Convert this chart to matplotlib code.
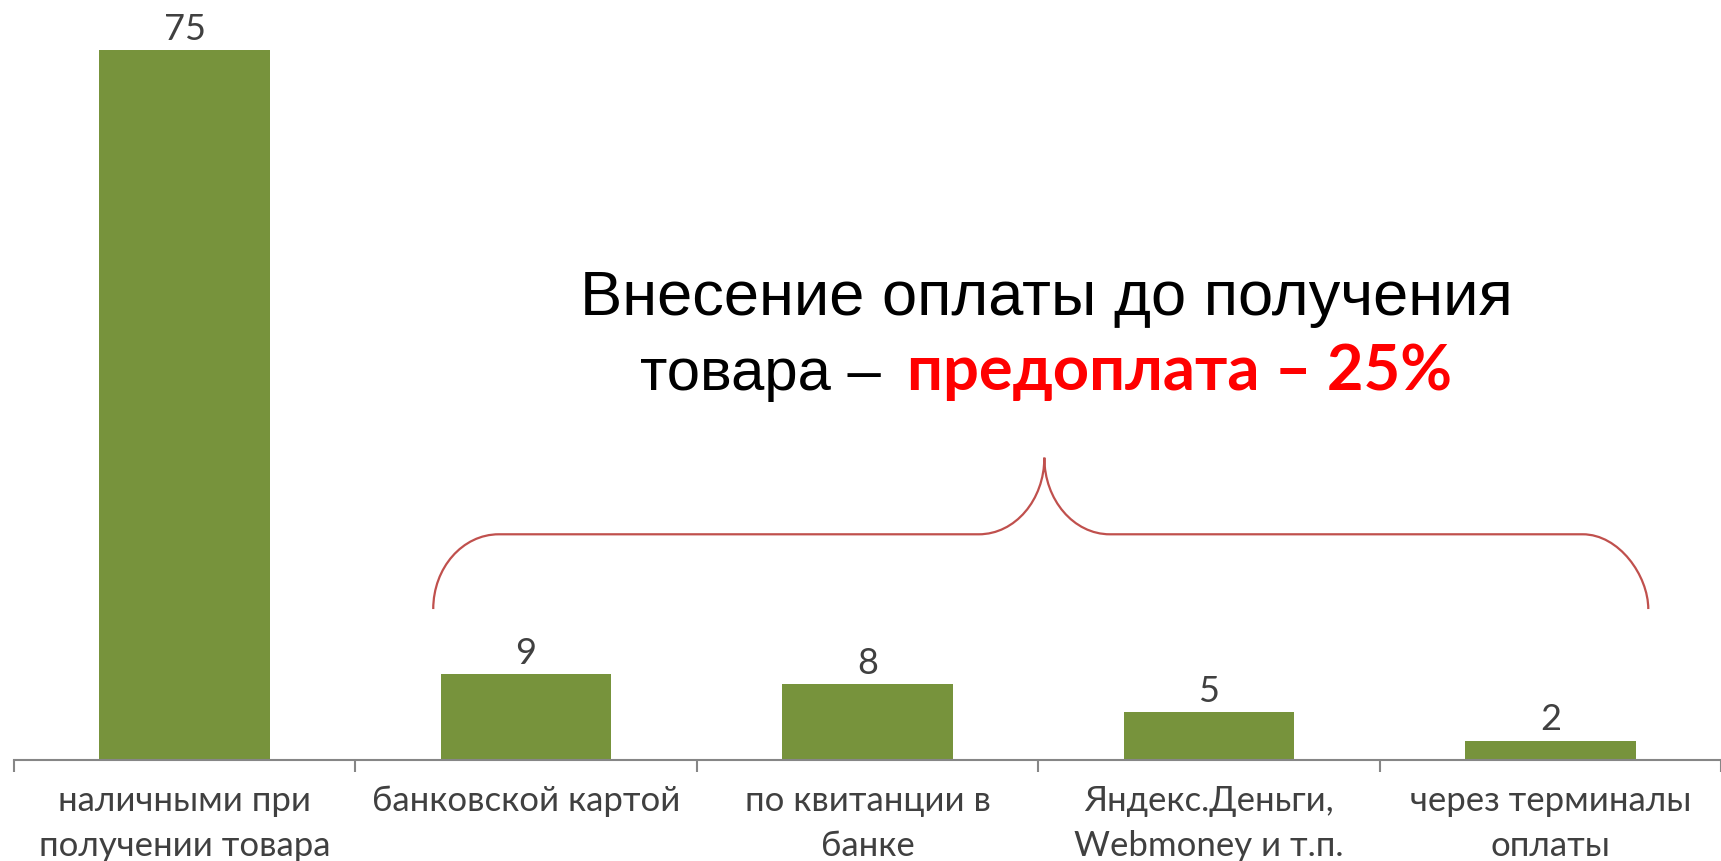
import numpy as np
import matplotlib
matplotlib.use("Agg")
import matplotlib.pyplot as plt
from matplotlib.path import Path
from matplotlib.patches import PathPatch

# data
categories = ["наличными при\nполучении товара", "банковской картой",
              "по квитанции в\nбанке", "Яндекс.Деньги,\nWebmoney и т.п.",
              "через терминалы\nоплаты"]
values = [75, 9, 8, 5, 2]

bar_color = "#77933C"
text_gray = "#404040"
brace_color = "#C0504D"

W, H = 1721, 862
y_axis_px = 760.5
cat_px = 343.4
fig = plt.figure(figsize=(W / 100, H / 100), dpi=100)
ax = fig.add_axes([14 / W, (H - y_axis_px) / H, (W - 14) / W, 757 / H])

x = np.arange(len(values))
ax.bar(x, values, width=0.5, color=bar_color, zorder=2)
ax.set_xlim(-0.5, -0.5 + (W - 14) / cat_px)
ax.set_ylim(0, 80)

for xi, v in zip(x, values):
    ax.annotate(str(v), (xi, v), xytext=(0, 8), textcoords="offset points",
                ha="center", va="baseline", fontsize=26, family="Lato",
                color=text_gray, annotation_clip=False)

# axis styling
for s in ["top", "right", "left"]:
    ax.spines[s].set_visible(False)
ax.spines["bottom"].set_color("#868686")
ax.spines["bottom"].set_linewidth(1.5)
ax.set_yticks([])
ax.set_xticks(x)
ax.set_xticklabels(categories, fontsize=25, family="Lato", color=text_gray,
                   linespacing=1.5)
ax.set_xticks(np.arange(-0.5, 5.5, 1), minor=True)
ax.tick_params(axis="x", which="major", length=0, pad=18)
ax.tick_params(axis="x", which="minor", length=8.5, width=1.5, color="#868686")

# curly brace over the prepaid categories
xl, xp, xr = 0.728, 2.518, 4.287
yb, ya, yt = 15.9, 23.8, 31.9
rx, ry1, ry2 = 0.192, ya - yb, yt - ya
k = 0.5523
verts = [
    (xl, yb), (xl, yb + k * ry1), (xl + rx - k * rx, ya), (xl + rx, ya),
    (xp - rx, ya),
    (xp - rx + k * rx, ya), (xp, yt - k * ry2), (xp, yt),
    (xp, yt - k * ry2), (xp + rx - k * rx, ya), (xp + rx, ya),
    (xr - rx, ya),
    (xr - rx + k * rx, ya), (xr, ya - k * ry1), (xr, yb),
]
codes = [Path.MOVETO, Path.CURVE4, Path.CURVE4, Path.CURVE4,
         Path.LINETO,
         Path.CURVE4, Path.CURVE4, Path.CURVE4,
         Path.CURVE4, Path.CURVE4, Path.CURVE4,
         Path.LINETO,
         Path.CURVE4, Path.CURVE4, Path.CURVE4]
ax.add_patch(PathPatch(Path(verts, codes), fill=False, edgecolor=brace_color,
                       linewidth=1.6, zorder=3))

# annotation text
fig.text(1046 / W, (H - 315) / H, "Внесение оплаты до получения",
         ha="center", va="baseline", fontsize=45.5, family="Liberation Sans",
         color="black")
fig.text(640 / W, (H - 390) / H, "товара –", ha="left", va="baseline",
         fontsize=43, family="Liberation Sans", color="black")
fig.text(907 / W, (H - 390) / H, "предоплата – 25%", ha="left",
         va="baseline", fontsize=45.5, family="Lato",
         fontweight="bold", color="#FF0000")

fig.savefig("out.png", dpi=100)
